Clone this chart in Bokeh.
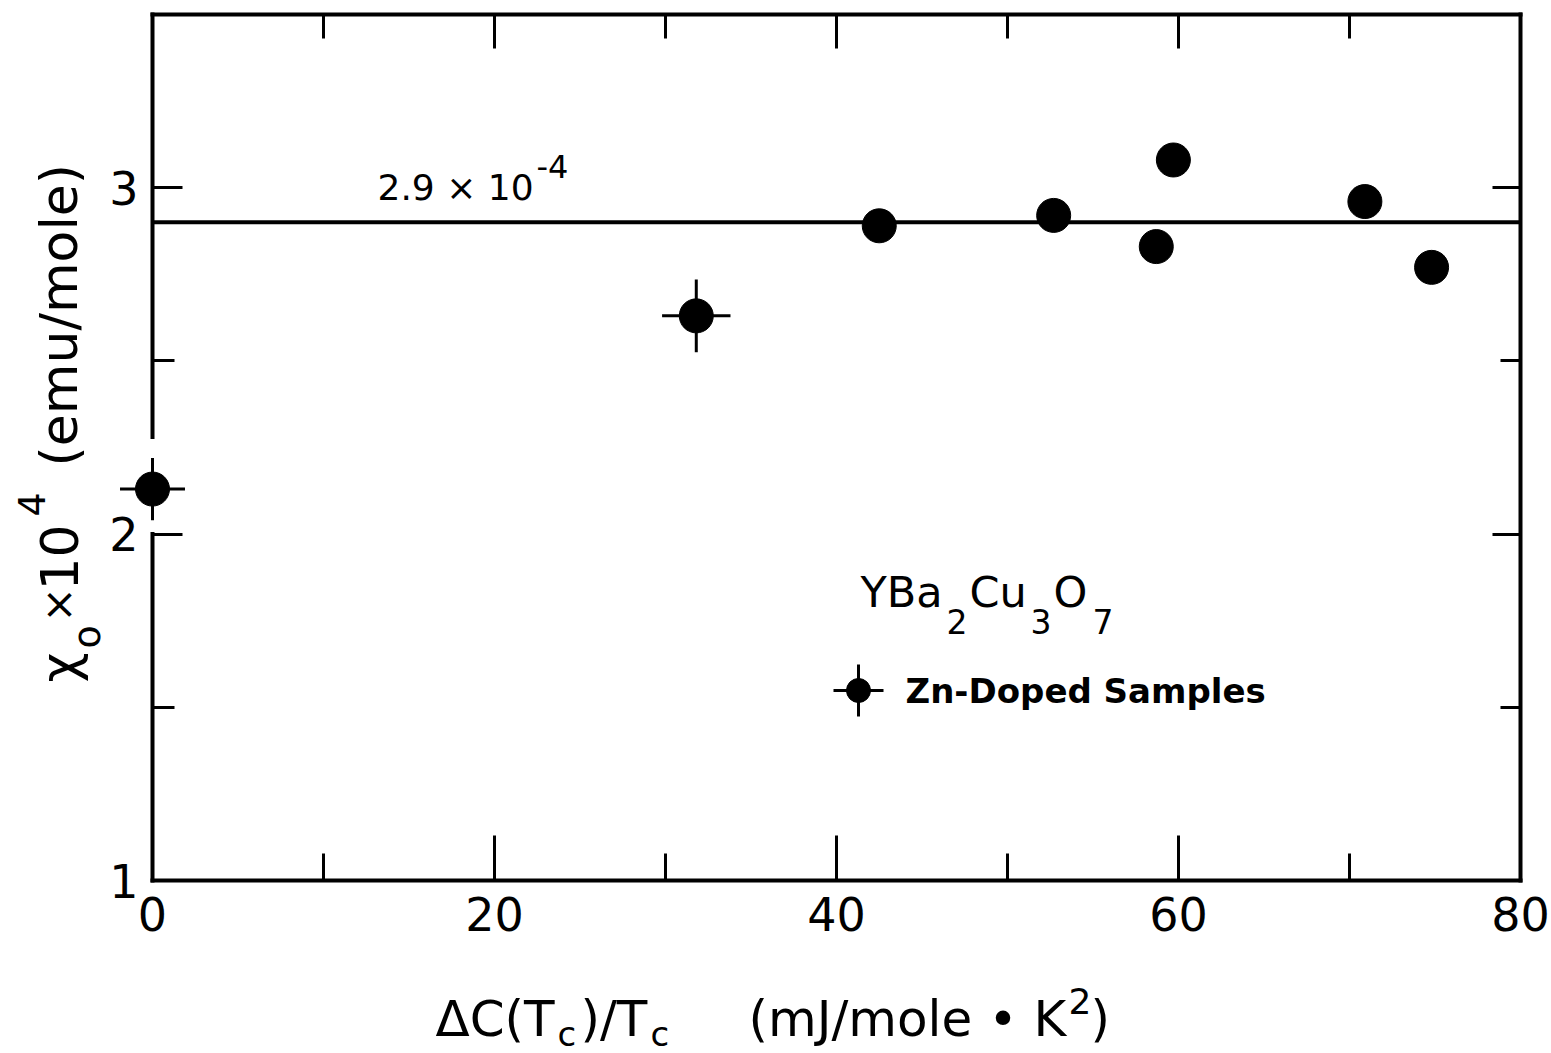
import math

from bokeh.embed import file_html
from bokeh.models import FixedTicker, Label, LinearAxis, Range1d
from bokeh.plotting import figure
from bokeh.resources import INLINE

# ---- data -------------------------------------------------------------
# Specific-heat jump vs. Pauli susceptibility, Zn-doped YBa2Cu3O7
delta_c_over_tc = [0.0, 31.8, 42.5, 52.7, 58.7, 59.7, 70.9, 74.8]
chi0_e4 = [2.13, 2.63, 2.89, 2.92, 2.83, 3.08, 2.96, 2.77]
delta_c_err = [1.9, 2.0, 0, 0, 0, 0, 0, 0]
chi0_err = [0.09, 0.105, 0, 0, 0, 0, 0, 0]

chi0_mean = 2.9  # horizontal reference level (x 1e-4 emu/mole)

x_major = [0, 20, 40, 60, 80]
x_minor = [10, 30, 50, 70]
y_major = [1, 2, 3]
y_minor = [1.5, 2.5]
X_LO, X_HI = 0, 80
Y_LO, Y_HI = 1.0, 3.5

# ---- layout -----------------------------------------------------------
# The plotting frame fills the whole canvas; the box of axes is pinned
# inside it with fixed_location so titles can sit anywhere.
W, H = 1551, 1053
BOX_L, BOX_R, BOX_T, BOX_B = 152, 1520, 14, 880   # pixel edges of the axes box
SX = (BOX_R - BOX_L) / (X_HI - X_LO)               # px per x unit
SY = (BOX_B - BOX_T) / (Y_HI - Y_LO)               # px per y unit
X_RANGE = (X_LO - BOX_L / SX, X_HI + (W - BOX_R) / SX)
Y_RANGE = (Y_LO - (H - BOX_B) / SY, Y_HI + BOX_T / SY)
FONT = "DejaVu Sans"


def px_x(px):
    """canvas pixel column -> data x"""
    return X_RANGE[0] + px / SX


def px_y(py):
    """canvas pixel row -> data y"""
    return Y_RANGE[1] - py / SY


p = figure(
    width=W, height=H,
    x_range=Range1d(*X_RANGE), y_range=Range1d(*Y_RANGE),
    min_border=0,
    output_backend="svg", toolbar_location=None,
)
p.outline_line_color = None
p.grid.visible = False
p.background_fill_color = "white"
p.border_fill_color = "white"

AXIS_W = 4
TICK_W = 3


def style_axis(ax, major_in, minor_in):
    ax.axis_line_width = AXIS_W
    ax.axis_line_color = "black"
    ax.axis_line_cap = "square"
    ax.major_tick_in = major_in
    ax.major_tick_out = 0
    ax.minor_tick_in = minor_in
    ax.minor_tick_out = 0
    ax.major_tick_line_width = TICK_W
    ax.minor_tick_line_width = TICK_W
    ax.major_tick_line_color = "black"
    ax.minor_tick_line_color = "black"
    ax.major_label_text_font = FONT
    ax.major_label_text_font_size = "46px"
    ax.major_label_text_color = "black"


# bottom axis at y = 1
xb = p.xaxis[0]
xb.ticker = FixedTicker(ticks=x_major, minor_ticks=x_minor)
xb.fixed_location = Y_LO
xb.bounds = (X_LO, X_HI)
style_axis(xb, 45, 27)
xb.major_label_standoff = 16

# left axis at x = 0; its spine is drawn separately (broken)
yl = p.yaxis[0]
yl.ticker = FixedTicker(ticks=y_major, minor_ticks=y_minor)
yl.fixed_location = X_LO
yl.bounds = (Y_LO, Y_HI)
style_axis(yl, 30, 22)
yl.axis_line_color = None
yl.major_label_standoff = 14


def tick_only_axis(side, ticks, length, loc, bounds, draw_line):
    """unlabelled axis whose ticks are all drawn as minor ticks"""
    ax = LinearAxis(ticker=FixedTicker(ticks=[], minor_ticks=ticks),
                    fixed_location=loc, bounds=bounds)
    style_axis(ax, 0, length)
    if not draw_line:
        ax.axis_line_color = None
    p.add_layout(ax, side)


# top edge
tick_only_axis("above", x_major, 34, Y_HI, (X_LO, X_HI), True)
tick_only_axis("above", x_minor, 24, Y_HI, (X_LO, X_HI), False)
# right edge
tick_only_axis("right", y_major, 28, X_HI, (Y_LO, Y_HI), True)
tick_only_axis("right", y_minor, 20, X_HI, (Y_LO, Y_HI), False)

# broken left spine around the undoped sample
spine_gap = (2.0, 2.28)
p.segment(x0=[X_LO, X_LO], y0=[Y_LO, spine_gap[1]], x1=[X_LO, X_LO], y1=[spine_gap[0], Y_HI],
          line_width=AXIS_W, line_color="black", line_cap="square")

# mean level
p.segment(x0=[X_LO], y0=[chi0_mean], x1=[X_HI], y1=[chi0_mean], line_width=4, line_color="black")

# error bars
ex0, ex1, ey = [], [], []
vx, vy0, vy1 = [], [], []
for xv, yv, xe, ye in zip(delta_c_over_tc, chi0_e4, delta_c_err, chi0_err):
    if xe:
        ex0.append(xv - xe); ex1.append(xv + xe); ey.append(yv)
    if ye:
        vx.append(xv); vy0.append(yv - ye); vy1.append(yv + ye)
p.segment(x0=ex0, y0=ey, x1=ex1, y1=ey, line_width=TICK_W, line_color="black")
p.segment(x0=vx, y0=vy0, x1=vx, y1=vy1, line_width=TICK_W, line_color="black")

# data points
p.scatter(delta_c_over_tc, chi0_e4, size=34, fill_color="black", line_color="black")


def label(px, py_mid, text, size, angle=0.0, bold=False):
    """text starting at pixel column px, vertically centred on row py_mid"""
    p.add_layout(Label(
        x=px_x(px), y=px_y(py_mid), text=text, angle=angle,
        text_font=FONT, text_font_size=f"{size}px", text_color="black",
        text_font_style="bold" if bold else "normal",
        text_align="left", text_baseline="middle",
    ))


# level annotation
label(377, 187, f"{chi0_mean:.1f} × 10", 36)
label(536, 166, "-4", 32)

# compound name
label(860, 591, "YBa", 43)
label(946, 621, "2", 33)
label(969, 591, "Cu", 43)
label(1030, 621, "3", 33)
label(1053, 591, "O", 43)
label(1092, 621, "7", 33)

# legend entry
LEG_X, LEG_Y = 858, 690
p.segment(x0=[px_x(LEG_X - 25)], y0=[px_y(LEG_Y)], x1=[px_x(LEG_X + 25)], y1=[px_y(LEG_Y)],
          line_width=TICK_W, line_color="black")
p.segment(x0=[px_x(LEG_X)], y0=[px_y(LEG_Y - 26)], x1=[px_x(LEG_X)], y1=[px_y(LEG_Y + 26)],
          line_width=TICK_W, line_color="black")
p.scatter([px_x(LEG_X)], [px_y(LEG_Y)], size=24, fill_color="black", line_color="black")
label(905, 690, "Zn-Doped Samples", 34, bold=True)

# x-axis title
label(435, 1018, "ΔC(T", 50)
label(557, 1033, "c", 34)
label(580, 1018, ")/T", 50)
label(650, 1033, "c", 34)
label(748, 1018, "(mJ/mole • K", 50)
label(1068, 1000, "2", 36)
label(1090, 1018, ")", 50)

# y-axis title (reads bottom to top)
up = math.pi / 2
label(58, 682, "χ", 52, angle=up)
label(86, 648, "o", 38, angle=up)
label(58, 622, "×", 42, angle=up)
label(58, 590, "10", 52, angle=up)
label(31, 516, "4", 38, angle=up)
label(58, 466, "(emu/mole)", 52, angle=up)

open("out.html", "w").write(file_html(p, INLINE))
